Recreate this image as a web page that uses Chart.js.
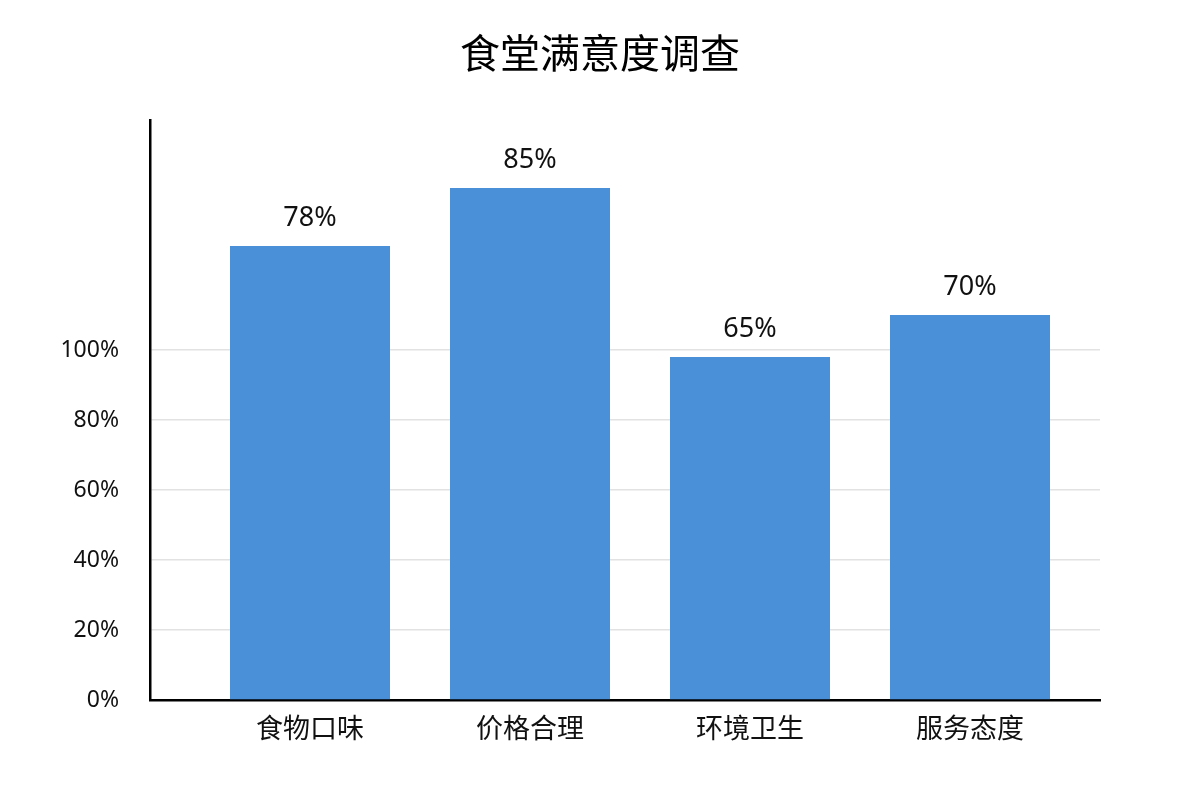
<!DOCTYPE html>
<html>
<head>
<meta charset="utf-8">
<script src="https://cdn.jsdelivr.net/npm/chart.js@4"></script>
<style>
  html, body { margin: 0; padding: 0; background: #fff; }
  #wrap { width: 1200px; height: 800px; }
</style>
</head>
<body>
<div id="wrap"><canvas id="chart" width="1200" height="800"></canvas></div>
<script>
const categories = ["食物口味", "价格合理", "环境卫生", "服务态度"];
// bar heights as drawn against the axis ticks
const barHeights = [129.7, 146.3, 98, 110];
// values printed above the bars
const valueLabels = ["78%", "85%", "65%", "70%"];
const yTicks = [0, 20, 40, 60, 80, 100];

const FONT = "'Noto Sans', 'Noto Sans CJK SC', sans-serif";

const barLabels = {
  id: "barLabels",
  afterDatasetsDraw(chart) {
    const ctx = chart.ctx;
    const meta = chart.getDatasetMeta(0);
    ctx.save();
    ctx.font = "27px " + FONT;
    ctx.fillStyle = "#111";
    ctx.textAlign = "center";
    ctx.textBaseline = "middle";
    meta.data.forEach((bar, i) => {
      ctx.fillText(valueLabels[i], bar.x, bar.y - 28);
    });
    ctx.restore();
  }
};

new Chart(document.getElementById("chart").getContext("2d"), {
  type: "bar",
  data: {
    datasets: [{
      data: categories.map((c, i) => ({ x: i, y: barHeights[i] })),
      backgroundColor: "#4a90d9",
      borderWidth: 0,
      categoryPercentage: 1,
      barPercentage: 160 / 220
    }]
  },
  options: {
    responsive: false,
    animation: false,
    layout: { padding: 0 },
    plugins: {
      legend: { display: false },
      tooltip: { enabled: false },
      title: {
        display: true,
        text: "食堂满意度调查",
        color: "#000",
        font: { family: FONT, size: 40, weight: "normal", lineHeight: 1.2 },
        padding: { top: 33, bottom: 39 }
      }
    },
    scales: {
      x: {
        type: "linear",
        offset: false,
        min: -160 / 220,
        max: 950 / 220 - 160 / 220,
        afterBuildTicks: s => { s.ticks = categories.map((c, i) => ({ value: i })); },
        afterFit: s => { s.height = 100; },
        grid: { display: false, drawTicks: false },
        border: { display: true, color: "#000", width: 2.5 },
        ticks: {
          color: "#111",
          padding: 14,
          font: { family: FONT, size: 27 },
          callback: v => categories[v]
        }
      },
      y: {
        min: 0,
        max: 580 / 3.5,
        afterBuildTicks: s => { s.ticks = yTicks.map(v => ({ value: v })); },
        afterFit: s => { s.width = 150; },
        grid: {
          color: ctx => ctx.tick && ctx.tick.value === 0 ? "rgba(0,0,0,0)" : "#e2e2e2",
          lineWidth: 1.5,
          drawTicks: false
        },
        border: { display: true, color: "#000", width: 2.5 },
        ticks: {
          color: "#111",
          padding: 31,
          font: { family: FONT, size: 23 },
          callback: v => v + "%"
        }
      },
      // empty right margin so the title centres on the page
      yRight: {
        position: "right",
        display: true,
        afterFit: s => { s.width = 100; },
        grid: { display: false, drawTicks: false },
        border: { display: false },
        ticks: { display: false }
      }
    }
  },
  plugins: [barLabels]
});
</script>
</body>
</html>
